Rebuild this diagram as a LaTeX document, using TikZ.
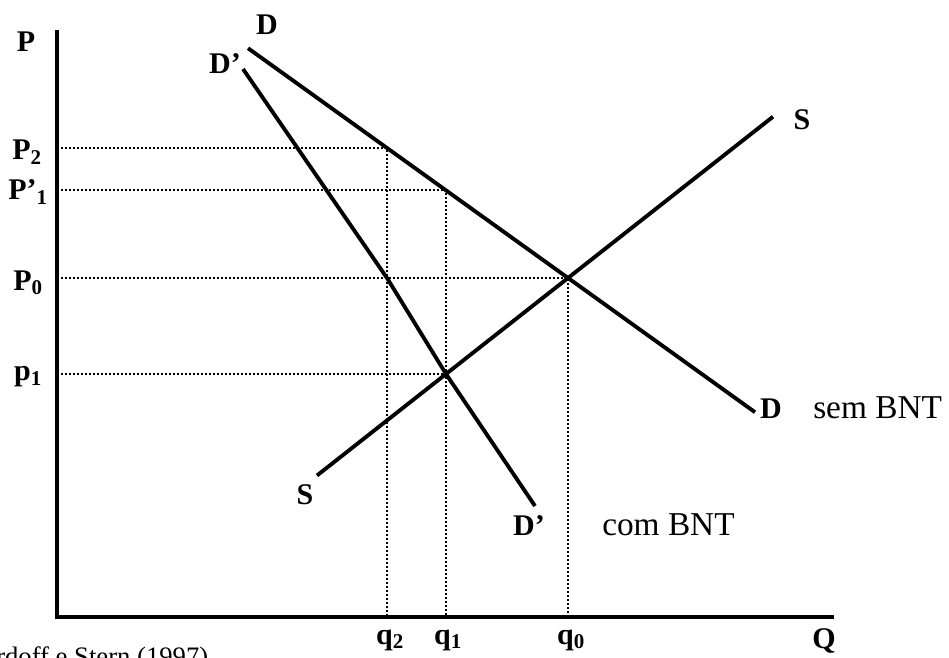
\documentclass[tikz,border=0pt]{standalone}
\usepackage{fontspec}
\setmainfont{Liberation Serif}
\usetikzlibrary{positioning,calc}
\definecolor{Ink}{RGB}{0,0,0}
\tikzset{
  eaxis/.style={draw=Ink,line width=3.4pt},
  ecurve/.style={draw=Ink,line width=2.9pt},
  eguide/.style={draw=Ink,line width=1.5pt,dash pattern=on 1.4pt off 1.6pt},
  elab/.style={font=\fontsize{22.5}{22.5}\selectfont\bfseries,text=Ink,inner sep=0pt},
  etext/.style={font=\fontsize{25}{25}\selectfont,text=Ink,inner sep=0pt},
  esrc/.style={font=\fontsize{20}{20}\selectfont,text=Ink,inner sep=0pt}
}

\begin{document}
\begin{tikzpicture}[x=0.75pt,y=-0.75pt]
\useasboundingbox (0,0) rectangle (949,657);
% axes and points
\coordinate (o) at (57,617);
\coordinate (ytop) at (57,30);
\coordinate (xend) at (834,617);
\coordinate (e0) at (568,278);
\coordinate (e1) at (446,374);
\coordinate (a2) at (387,148);
\coordinate (b1) at (446,190.4);
\coordinate (c2) at (387,278);
\coordinate (dtop) at (248,48.2);
\coordinate (dend) at (755,412.2);
\coordinate (dptop) at (243,69);
\coordinate (dpend) at (535,506);
\coordinate (sbot) at (317,475.5);
\coordinate (stop) at (773,116.7);
% guides
\draw[eguide] (o |- a2) -- (a2) -- (a2 |- o);
\draw[eguide] (o |- b1) -- (b1) -- (b1 |- o);
\draw[eguide] (o |- e0) -- (e0) -- (e0 |- o);
\draw[eguide] (o |- e1) -- (e1);
% curves
\draw[ecurve] (dtop) -- (dend);
\draw[ecurve] (dptop) -- (c2) -- (e1) -- (dpend);
\draw[ecurve] (sbot) -- (stop);
\draw[eaxis] (ytop) -- (o) -- (xend);
% labels
\node[elab] (lp) at (26,42) {P};
\node[elab] (lp2) at (27,152) {P\textsubscript{2}};
\node[elab] (lp1p) at (28,192) {P’\textsubscript{1}};
\node[elab] (lp0) at (28,283) {P\textsubscript{0}};
\node[elab] (lpl1) at (28,377) {p\textsubscript{1}};
\node[elab] (lq2) at (390,640) {q\textsubscript{2}};
\node[elab] (lq1) at (448,640) {q\textsubscript{1}};
\node[elab] (lq0) at (571,640) {q\textsubscript{0}};
\node[elab] (lq) at (824,641) {Q};
\node[elab] (ld) at (267,25) {D};
\node[elab] (ldp) at (225,64) {D’};
\node[elab] (lsb) at (305,495) {S};
\node[elab] (lst) at (802,120) {S};
\node[elab,anchor=base] (ldr) at (771,418) {D};
\node[elab] (ldpb) at (529,526) {D’};
\node[etext,anchor=base west] (lsem) at (813,418) {sem BNT};
\node[etext,anchor=base west] (lcom) at (602,535) {com BNT};
\node[esrc,anchor=base west] (lsrc) at (-4,665) {rdoff e Stern (1997)};
\end{tikzpicture}
\end{document}
